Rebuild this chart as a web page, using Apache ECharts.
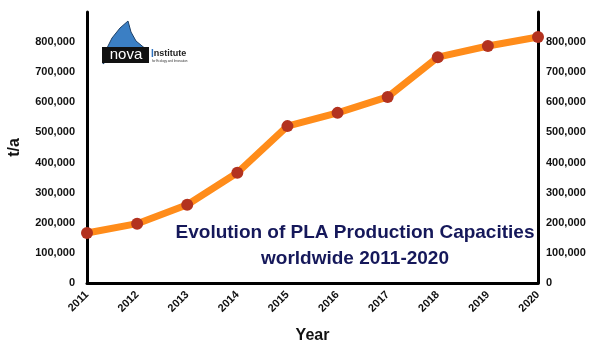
<!DOCTYPE html>
<html>
<head>
<meta charset="utf-8">
<script src="https://cdn.jsdelivr.net/npm/echarts@6/dist/echarts.min.js"></script>
<style>
  html, body { margin: 0; padding: 0; background: #fff; }
  #chart { width: 600px; height: 351px; }
</style>
</head>
<body>
<div id="chart"></div>
<script>
// PLA production capacity, t/a
const years = ['2011', '2012', '2013', '2014', '2015', '2016', '2017', '2018', '2019', '2020'];
const capacity = [166000, 197000, 260000, 366000, 521000, 565000, 618000, 750000, 787000, 817000];

const font = 'Liberation Sans';
const chart = echarts.init(document.getElementById('chart'));

const yAxisBase = {
  type: 'value',
  min: 0,
  max: 900000,
  interval: 100000,
  splitLine: { show: false },
  axisTick: { show: false },
  axisLine: { show: true, lineStyle: { color: '#000', width: 3 } },
  axisLabel: {
    showMaxLabel: false,
    color: '#111',
    fontFamily: font,
    fontWeight: 'bold',
    fontSize: 11,
    formatter: v => v.toLocaleString('en-US')
  }
};

chart.setOption({
  animation: false,
  grid: { left: 87, right: 62, top: 12, bottom: 68, outerBoundsMode: 'none' },
  xAxis: {
    type: 'category',
    data: years,
    boundaryGap: false,
    name: 'Year',
    nameLocation: 'middle',
    nameGap: 45,
    nameTextStyle: { color: '#111', fontFamily: font, fontWeight: 'bold', fontSize: 16 },
    axisTick: { show: false },
    axisLine: { lineStyle: { color: '#000', width: 3 } },
    axisLabel: {
      rotate: 45,
      margin: 10,
      color: '#111',
      fontFamily: font,
      fontWeight: 'bold',
      fontSize: 11
    }
  },
  yAxis: [
    Object.assign({}, yAxisBase, {
      position: 'left',
      name: 't/a',
      nameLocation: 'middle',
      nameGap: 64,
      nameRotate: 90,
      nameTextStyle: { color: '#111', fontFamily: font, fontWeight: 'bold', fontSize: 16 },
      axisLabel: Object.assign({}, yAxisBase.axisLabel, { margin: 12 })
    }),
    Object.assign({}, yAxisBase, {
      position: 'right',
      axisLabel: Object.assign({}, yAxisBase.axisLabel, { margin: 8 })
    })
  ],
  series: [{
    type: 'line',
    data: capacity,
    symbol: 'circle',
    symbolSize: 12,
    lineStyle: { color: '#ff8c1a', width: 7 },
    itemStyle: { color: '#b3321f', borderWidth: 0 },
    z: 5
  }],
  graphic: [
    {
      type: 'text',
      x: 355, y: 220,
      style: {
        text: 'Evolution of PLA Production Capacities\nworldwide 2011-2020',
        fill: '#15185a',
        font: 'bold 19px "Liberation Sans"',
        textAlign: 'center',
        lineHeight: 26
      }
    },
    {
      type: 'polygon',
      shape: {
        points: [[103, 64], [106, 50], [112, 38], [120, 28], [128, 21], [131, 32], [136, 41], [147, 50], [130, 49], [115, 54]]
      },
      style: { fill: '#3b7fc4', stroke: '#1d3f66', lineWidth: 1 }
    },
    {
      type: 'rect',
      shape: { x: 102, y: 47, width: 47, height: 16 },
      style: { fill: '#111' }
    },
    {
      type: 'text',
      x: 126, y: 55,
      style: {
        text: 'nova', fill: '#fff', font: '15px "Liberation Sans"',
        textAlign: 'center', textVerticalAlign: 'middle'
      }
    },
    {
      type: 'text',
      x: 151, y: 49,
      style: {
        text: '{a|I}{b|nstitute}',
        rich: {
          a: { fill: '#2f73c0', font: 'bold 10px "Liberation Sans"' },
          b: { fill: '#222', font: 'bold 9px "Liberation Sans"' }
        }
      }
    },
    {
      type: 'text',
      x: 152, y: 60,
      style: { text: 'for Ecology and Innovation', fill: '#333', font: '3px "Liberation Sans"' }
    }
  ]
});
</script>
</body>
</html>
